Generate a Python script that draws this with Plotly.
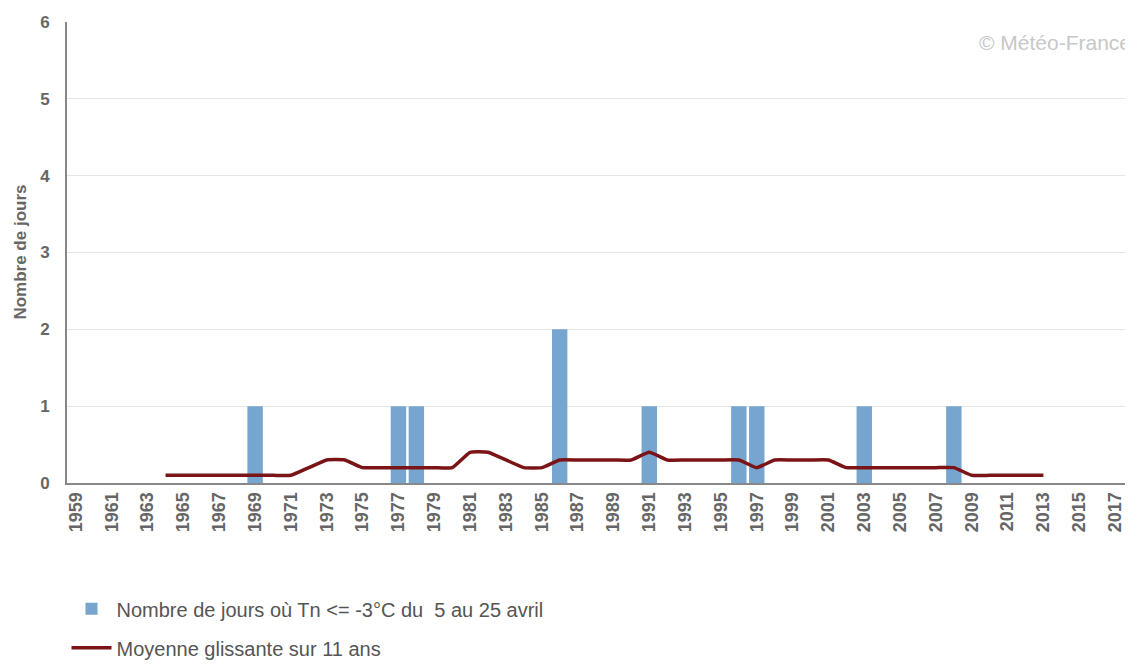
import plotly.graph_objects as go

years = list(range(1959, 2019))
frost_years = [1969, 1977, 1978, 1986, 1991, 1996, 1997, 2003, 2008]
frost_days = [1, 1, 1, 2, 1, 1, 1, 1, 1]
day_counts = [frost_days[frost_years.index(y)] if y in frost_years else 0 for y in years]

ma_years = list(range(1964, 2014))
ma_values = [0.1, 0.1, 0.1, 0.1, 0.1, 0.1, 0.1, 0.1, 0.2, 0.3,
             0.3, 0.2, 0.2, 0.2, 0.2, 0.2, 0.2, 0.4, 0.4, 0.3,
             0.2, 0.2, 0.3, 0.3, 0.3, 0.3, 0.3, 0.4, 0.3, 0.3,
             0.3, 0.3, 0.3, 0.2, 0.3, 0.3, 0.3, 0.3, 0.2, 0.2,
             0.2, 0.2, 0.2, 0.2, 0.2, 0.1, 0.1, 0.1, 0.1, 0.1]

tick_years = list(range(1959, 2019, 2))

FONT = "Liberation Sans, Arial, sans-serif"

fig = go.Figure()
fig.add_trace(go.Bar(
    x=years, y=day_counts,
    name="Nombre de jours où Tn <= -3°C du  5 au 25 avril",
    marker=dict(color="#76a5d0", line=dict(width=0)),
    legendgroup="a",
))
fig.add_trace(go.Scatter(
    x=ma_years, y=ma_values, mode="lines",
    name="Moyenne glissante sur 11 ans",
    line=dict(color="#7a1416", width=3.5, shape="spline", smoothing=0.4),
    legendgroup="b",
))

fig.update_layout(
    width=1125, height=656,
    margin=dict(l=59, r=0, t=14, b=181, autoexpand=False),
    plot_bgcolor="white", paper_bgcolor="white",
    font=dict(family=FONT, color="#666666"),
    bargap=0.14,
    showlegend=True,
    legend=dict(
        orientation="v", xref="container", yref="container",
        x=0.052, y=0.114, xanchor="left", yanchor="top",
        font=dict(size=20, color="#555555"),
        tracegroupgap=10, itemwidth=40,
    ),
    xaxis=dict(
        range=[1958.5, 2018.0], automargin=False,
        tickmode="array", tickvals=tick_years, ticktext=[str(y) for y in tick_years],
        tickangle=-90,
        tickfont=dict(size=18, color="#666666", family=FONT, weight="bold"),
        showgrid=False, showline=True, linecolor="#888888", linewidth=2,
        ticks="", zeroline=False,
    ),
    yaxis=dict(
        range=[0, 6], dtick=1, automargin=False,
        tickfont=dict(size=17, color="#666666", family=FONT, weight="bold"),
        showgrid=True, gridcolor="#e6e6e6", gridwidth=1,
        showline=True, linecolor="#888888", linewidth=2,
        zeroline=False, ticks="", ticklabelstandoff=12,
    ),
    annotations=[
        dict(
            text="© Météo-France", xref="paper", yref="paper", x=1.0, y=0.955,
            xanchor="right", yanchor="middle", showarrow=False,
            font=dict(size=21, color="#c8c8c8", family=FONT),
        ),
        dict(
            text="Nombre de jours", xref="paper", yref="paper", x=-0.044, y=0.5,
            xanchor="center", yanchor="middle", textangle=-90, showarrow=False,
            font=dict(size=17, color="#666666", family=FONT, weight="bold"),
        ),
    ],
)

fig.write_html("out.html")
